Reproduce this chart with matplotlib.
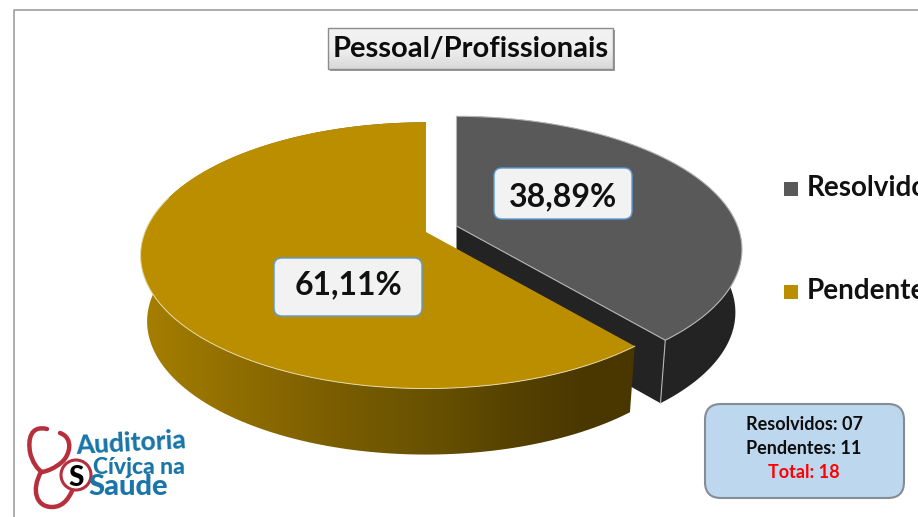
import numpy as np
import matplotlib
matplotlib.use("Agg")
import matplotlib.pyplot as plt
from matplotlib.colors import LinearSegmentedColormap
from matplotlib.patches import FancyBboxPatch, PathPatch, Polygon, Rectangle, Circle
from matplotlib.path import Path

categories = ["Resolvidos", "Pendentes"]
counts = [7, 11]
colors = ["#595959", "#BB8E00"]
title = "Pessoal/Profissionais"
total_label = "Total"

plt.rcParams["font.family"] = ["Lato", "DejaVu Sans"]

# pie shape, in pixels
A, B, P = 281, 129, 0.176
DEPTH_GRAY = 63
DEPTH_GOLD = 66
KX = 0.977
GOLD_C = (426, 232)
GRAY_C = (456.5, 226)


def project(theta, center):
    """Map angles (degrees) on the pie circle to pixels, near side is larger."""
    t = np.radians(theta)
    s = 1 + P * np.sin(t)
    return center[0] + A * np.cos(t) / s, center[1] - B * np.sin(t) / s


def drop(x, y, center, depth):
    """Same points on the lower rim of the pie."""
    return center[0] + (x - center[0]) * KX, y + depth


def rounded(ax, x0, y0, x1, y1, rad, fc, ec, lw=1.0, z=10):
    box = FancyBboxPatch((x0 + rad, y0 + rad), x1 - x0 - 2 * rad, y1 - y0 - 2 * rad,
                         boxstyle=f"round,pad={rad},rounding_size={rad}",
                         fc=fc, ec=ec, lw=lw, zorder=z)
    ax.add_patch(box)
    return box


def curve(ax, pts, color, lw, z=6):
    """Draw a bezier through start + triples of control points."""
    codes = [Path.MOVETO] + [Path.CURVE4] * (len(pts) - 1)
    ax.add_patch(PathPatch(Path(pts, codes), fc="none", ec=color, lw=lw, capstyle="round", zorder=z))


fig = plt.figure(figsize=(9.18, 5.17), dpi=100)
ax = fig.add_axes([0, 0, 1, 1])
ax.axis("off")

# frame of the slide
ax.plot([14, 14, 918], [517, 10, 10], color="#a6a6a6", lw=1.3, zorder=1)

total = sum(counts)
sweep = [c / total * 360 for c in counts]
split = 90 - sweep[0]

# resolved slice
theta = np.linspace(90, split, 120)
x, y = project(theta, GRAY_C)
bx, by = drop(x, y, GRAY_C, DEPTH_GRAY)
ax.add_patch(Polygon(np.r_[np.c_[x, y], np.c_[bx, by][::-1]], fc="#232323", ec="none", zorder=2))
cut = np.array([GRAY_C, (x[-1], y[-1]), (bx[-1], by[-1]), (GRAY_C[0], GRAY_C[1] + DEPTH_GRAY)])
ax.add_patch(Polygon(cut, fc="#232323", ec="none", zorder=2))
ax.plot([x[-1], bx[-1]], [y[-1], by[-1]], color="#b5b5b5", lw=0.8, zorder=3)
ax.add_patch(Polygon(np.r_[[GRAY_C], np.c_[x, y]], fc=colors[0], ec="#b5b5b5", lw=0.8, zorder=3))

# pending slice, the side wall fades to dark towards the cut
theta = np.linspace(split, split - sweep[1], 200)
x, y = project(theta, GOLD_C)
bx, by = drop(x, y, GOLD_C, DEPTH_GOLD)
wall = Polygon(np.r_[np.c_[x, y], np.c_[bx, by][::-1]], fc="none", ec="none",
               transform=ax.transData)
ax.add_patch(wall)
stops = [(0.0, "#A67F00"), (0.2, "#8F6D00"), (0.4, "#7A5D00"), (0.6, "#665000"),
         (0.75, "#564200"), (0.9, "#4A3700"), (1.0, "#4A3700")]
fade = LinearSegmentedColormap.from_list("fade", stops)
img = ax.imshow(np.linspace(0, 1, 256)[None, :], cmap=fade, aspect="auto",
                extent=(x.min(), x.max(), by.max(), y.min()), zorder=4)
img.set_clip_path(wall)
ax.add_patch(Polygon(np.r_[[GOLD_C], np.c_[x, y]], fc=colors[1], ec="none", zorder=5))
front = theta > -197
ax.plot(x[front], y[front], color="#E6D8A6", lw=0.7, zorder=5)

ax.set_xlim(0, 918)
ax.set_ylim(517, 0)

# percent labels
pct = [f"{c / total * 100:.2f}%".replace(".", ",") for c in counts]
rounded(ax, 494, 168, 632, 219, 8, "#F2F2F2", "#5B9BD5")
ax.text(563, 197, pct[0], ha="center", va="center", fontsize=23, fontweight="bold", color="#111111", zorder=11)
rounded(ax, 274, 258, 422, 316, 8, "#F2F2F2", "#5B9BD5")
ax.text(348, 285, pct[1], ha="center", va="center", fontsize=23, fontweight="bold", color="#111111", zorder=11)

# title box
ax.add_patch(Rectangle((330, 30), 285, 41, fc="#9a9a9a", ec="none", zorder=9))
shade = ax.imshow(np.linspace(0, 1, 64)[:, None], aspect="auto", extent=(328, 613, 69, 28), zorder=10,
                  cmap=LinearSegmentedColormap.from_list("title", ["#F2F2F2", "#F0F0F0", "#D9D9D9"]))
ax.add_patch(Rectangle((328, 28), 285, 41, fc="none", ec="#8c8c8c", lw=1, zorder=11))
ax.set_xlim(0, 918)
ax.set_ylim(517, 0)
ax.text(470.5, 49, title, ha="center", va="center", fontsize=21, fontweight="bold", color="#0d0d0d", zorder=12)

# legend, the labels run off the slide
legend_y = [189, 292]
for name, col, ly in zip(categories, colors, legend_y):
    ax.add_patch(Rectangle((784, ly - 7), 14, 14, fc=col, ec="none", zorder=5))
    ax.text(807, ly - 1, name, ha="left", va="center", fontsize=20, fontweight="bold", color="#111111", zorder=5)

# totals box
rounded(ax, 705, 404, 904, 498, 16, "#BDD7EE", "#868C94", lw=1.5)
ax.text(804, 424, f"{categories[0]}: {counts[0]:02d}", ha="center", va="center", fontsize=13,
        fontweight="bold", color="#0d0d0d", zorder=11)
ax.text(804, 448, f"{categories[1]}: {counts[1]:02d}", ha="center", va="center", fontsize=13,
        fontweight="bold", color="#0d0d0d", zorder=11)
ax.text(804, 472, f"{total_label}: {total}", ha="center", va="center", fontsize=13,
        fontweight="bold", color="#FF0000", zorder=11)

# logo
red = "#B5303C"
blue = "#1A75A8"
curve(ax, [(47, 429), (30, 425), (28, 440), (30, 452), (32, 462), (38, 470), (42, 472)], red, 3.2)
curve(ax, [(60, 433), (74, 438), (70, 455), (62, 462), (55, 468), (48, 471), (42, 472)], red, 3.2)
curve(ax, [(41, 472), (31, 490), (36, 507), (52, 507), (62, 507), (68, 500), (72, 491)], red, 3.2)
ax.add_patch(Circle((76, 475), 15, fc="white", ec=red, lw=2.2, zorder=7))
ax.text(76, 478, "S", ha="center", va="center", fontsize=20, fontweight="black", color="black", zorder=8)
ax.text(75, 443, "Auditoria", ha="left", va="center", fontsize=19, fontweight="black", color=blue,
        rotation=3, zorder=9)
ax.text(93, 467, "Cívica na", ha="left", va="center", fontsize=16.5, fontweight="black", color=blue, zorder=9)
ax.text(88, 487, "Saúde", ha="left", va="center", fontsize=21, fontweight="black", color=blue, zorder=9)

fig.savefig("out.png", dpi=100)
